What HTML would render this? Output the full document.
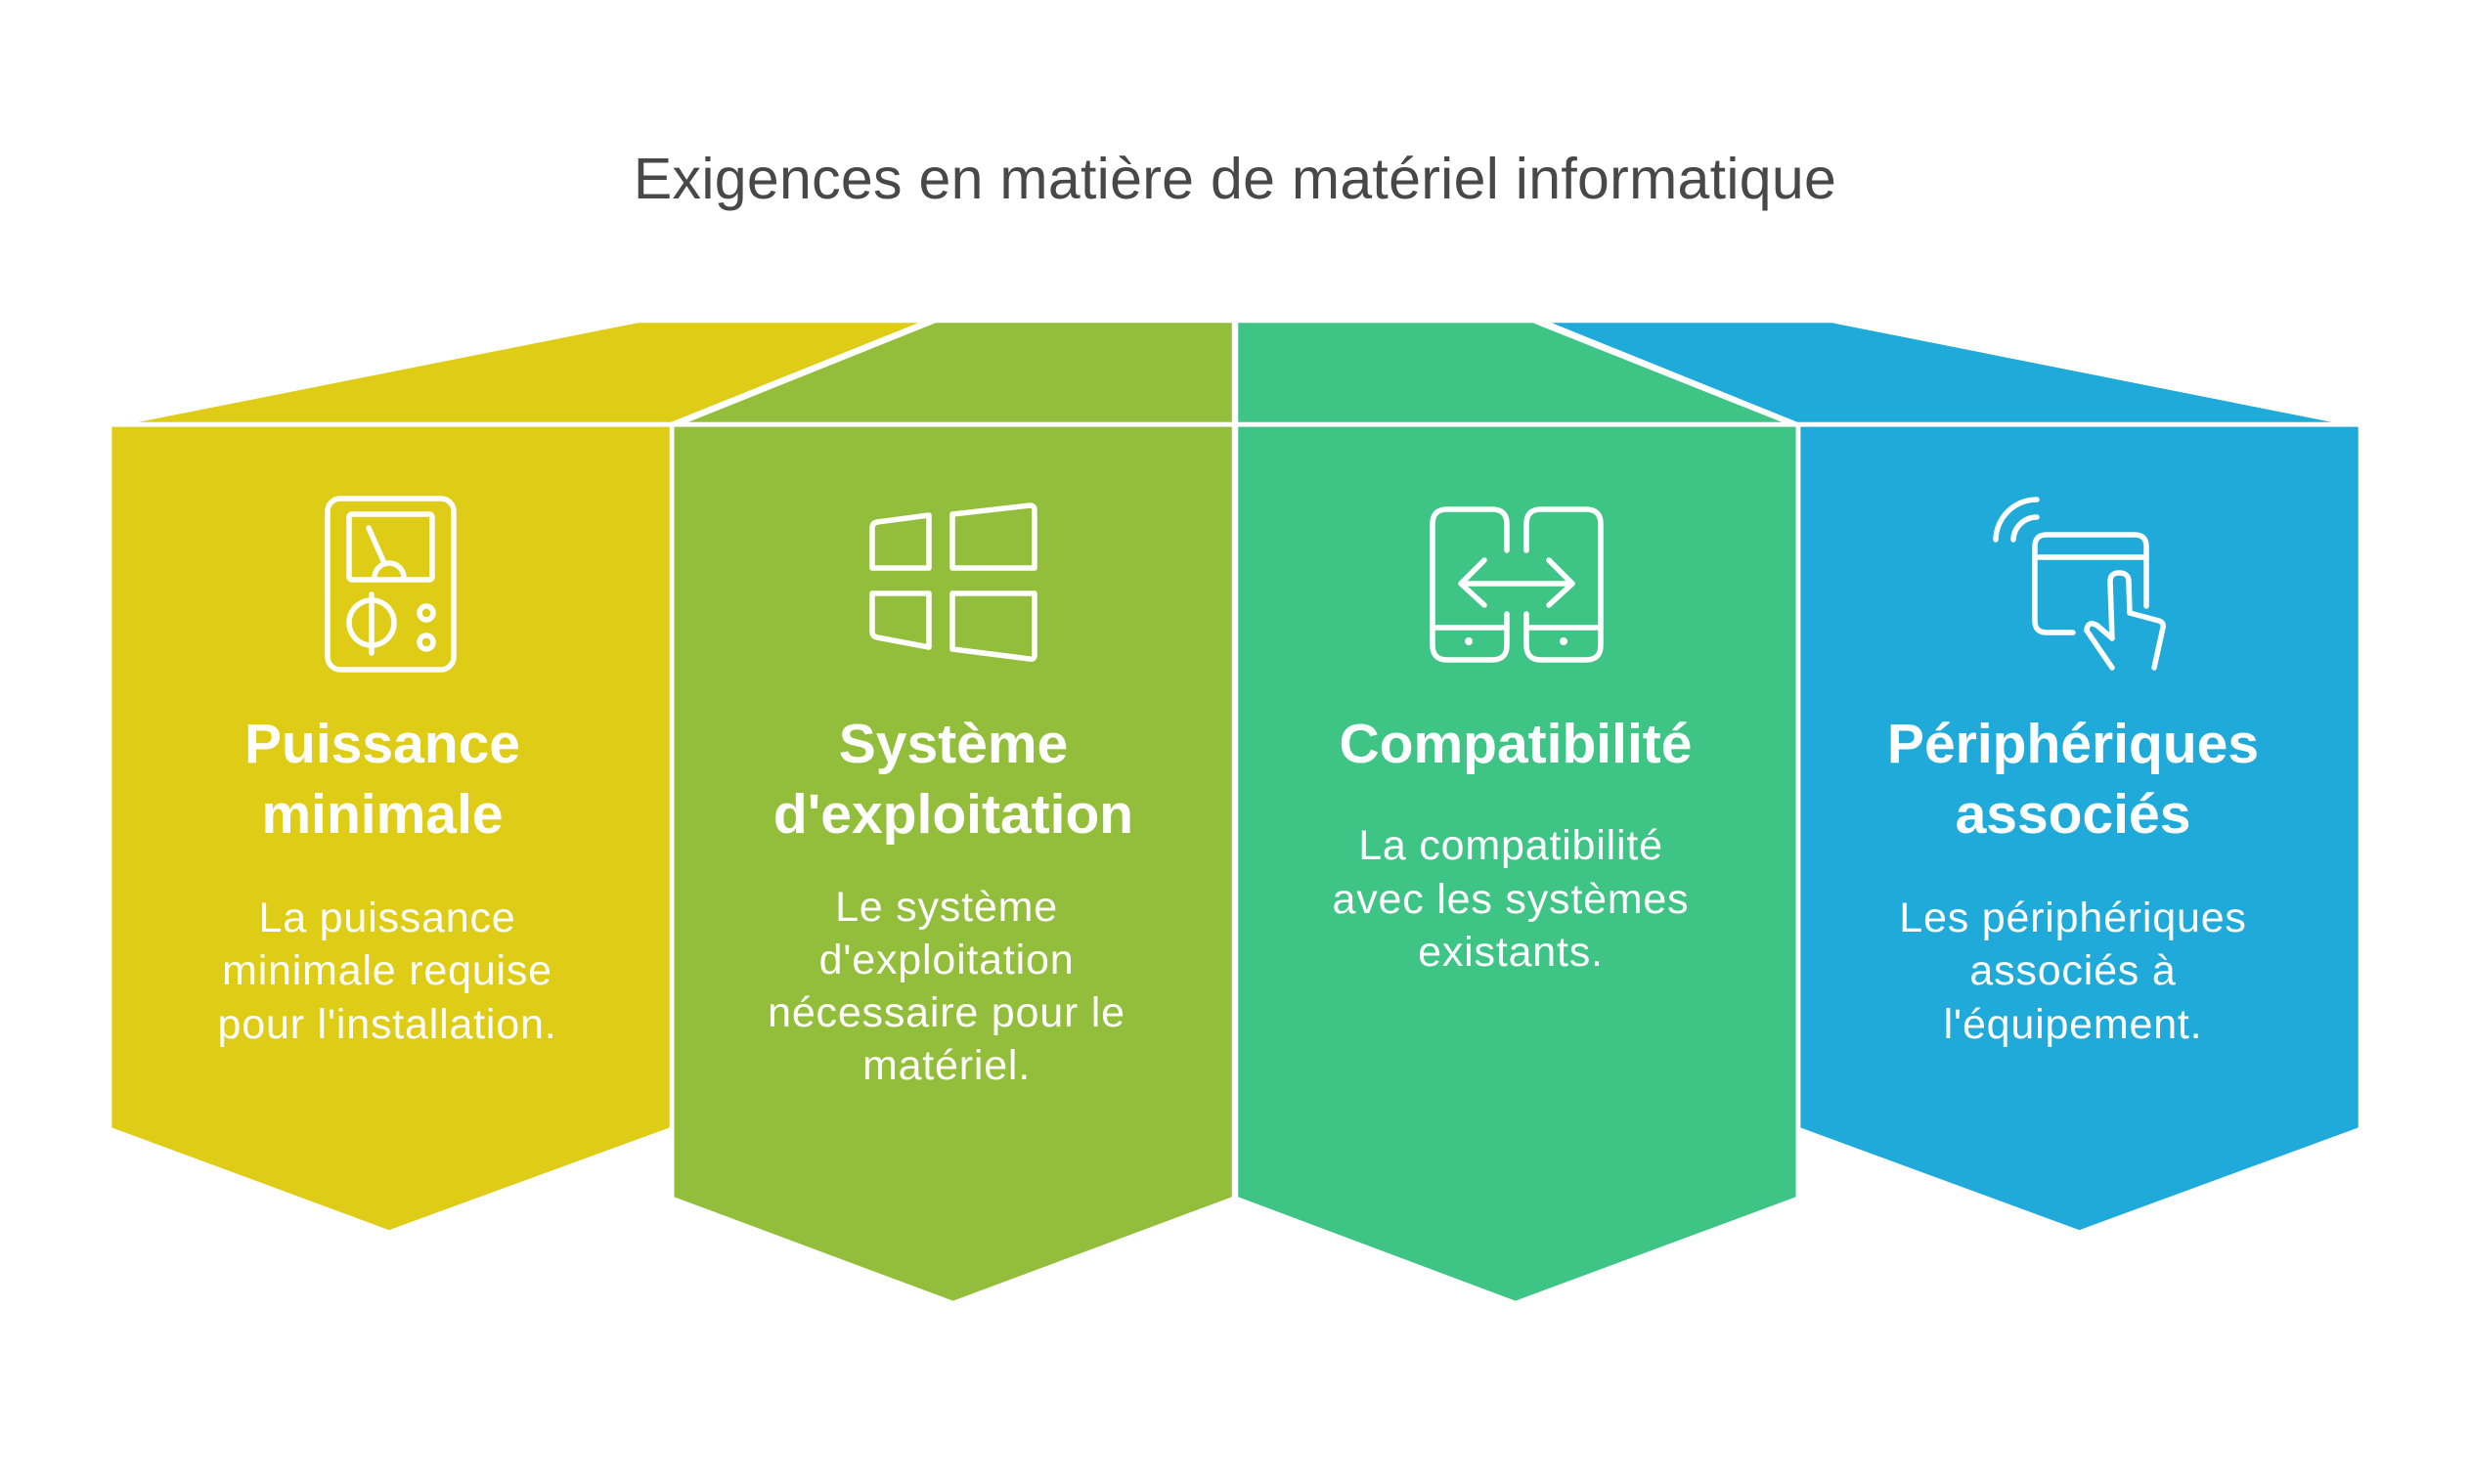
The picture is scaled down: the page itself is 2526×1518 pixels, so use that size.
<!DOCTYPE html>
<html><head><meta charset="utf-8"><style>
html,body{margin:0;padding:0;background:#fff;}
svg{display:block;}
text{font-family:"Liberation Sans",sans-serif;}
</style></head><body>
<svg width="2526" height="1518" viewBox="0 0 2526 1518" xmlns="http://www.w3.org/2000/svg">
<g transform="scale(1.611)">
<polygon points="405,205 583,205 426,268 88,268" fill="#DFCC17"/>
<polygon points="594,205 782,205 782,268 437,268" fill="#93BE3B"/>
<polygon points="786,205 973,205 1131,268 786,268" fill="#3EC484"/>
<polygon points="985,205 1163,205 1480,268 1141,268" fill="#20AADA"/>
<polygon points="71,271 425,271 425,716 247,781 71,716" fill="#DFCC17"/>
<polygon points="428,271 782,271 782,760 605,826 428,760" fill="#93BE3B"/>
<polygon points="786,271 1140,271 1140,760 962,826 786,760" fill="#3EC484"/>
<polygon points="1143,271 1497,271 1497,716 1320,781 1143,716" fill="#20AADA"/>
</g>
<text x="1263" y="203" font-size="59" fill="#484848" text-anchor="middle" letter-spacing="0.3">Exigences en matière de matériel informatique</text>

<g fill="none" stroke="#fff" stroke-width="5.5" stroke-linecap="round" stroke-linejoin="round">
<rect x="335" y="510" width="129" height="175" rx="13"/>
<rect x="357" y="526" width="85" height="67" rx="3"/>
<line x1="377" y1="540" x2="393" y2="576"/>
<path d="M383 591 A15 15 0 0 1 413 591"/>
<circle cx="380" cy="637" r="23"/>
<line x1="380" y1="608" x2="380" y2="668"/>
<circle cx="436" cy="627" r="7"/>
<circle cx="436" cy="657" r="7"/>
<path d="M892 540 Q892 535 897 534 L950 527 L950 581 L892 581 Z"/>
<path d="M974 526 L1053 517 Q1058 517 1058 522 L1058 581 L974 581 Z"/>
<path d="M892 607 L950 607 L950 662 L897 652 Q892 651 892 646 Z"/>
<path d="M974 607 L1058 607 L1058 670 Q1058 675 1053 674 L974 664 Z"/>
<path d="M1541 563 L1541 536 Q1541 521 1526 521 L1480 521 Q1465 521 1465 536 L1465 660 Q1465 675 1480 675 L1526 675 Q1541 675 1541 660 L1541 628"/>
<path d="M1561 563 L1561 536 Q1561 521 1576 521 L1622 521 Q1637 521 1637 536 L1637 660 Q1637 675 1622 675 L1576 675 Q1561 675 1561 660 L1561 628"/>
<line x1="1465" y1="642" x2="1541" y2="642"/>
<line x1="1561" y1="642" x2="1637" y2="642"/>
<line x1="1494" y1="597" x2="1608" y2="597"/>
<polyline points="1518,573 1494,597 1518,619"/>
<polyline points="1584,573 1608,597 1584,619"/>
<path d="M2041 552 A42 42 0 0 1 2083 511"/>
<path d="M2059 552 A24 24 0 0 1 2083 529"/>
<path d="M2120 647 L2093 647 Q2081 647 2081 635 L2081 559 Q2081 547 2093 547 L2183 547 Q2195 547 2195 559 L2195 620"/>
<line x1="2081" y1="570" x2="2195" y2="570"/>
<path d="M2160 653 L2158 595 Q2158 586 2167 586 Q2177 586 2177 595 L2178 627 L2208 635 Q2213 637 2212 642 L2203 683"/>
<path d="M2160 653 L2145 640 Q2135 634 2134 645 L2160 683"/>
</g>
<g fill="#fff"><circle cx="1502" cy="656" r="4"/><circle cx="1599" cy="656" r="4"/></g>

<g fill="#fff" text-anchor="middle">
<g font-size="57" font-weight="bold">
<text x="391" y="780">Puissance</text><text x="391" y="852">minimale</text>
<text x="975" y="780">Système</text><text x="975" y="852">d'exploitation</text>
<text x="1550" y="780">Compatibilité</text>
<text x="2120" y="780">Périphériques</text><text x="2120" y="852">associés</text>
</g>
<g font-size="43" letter-spacing="0.8">
<text x="396" y="953">La puissance</text><text x="396" y="1007">minimale requise</text><text x="396" y="1062">pour l'installation.</text>
<text x="968" y="942">Le système</text><text x="968" y="996">d'exploitation</text><text x="968" y="1050">nécessaire pour le</text><text x="968" y="1104">matériel.</text>
<text x="1545" y="879">La compatibilité</text><text x="1545" y="934">avec les systèmes</text><text x="1545" y="988">existants.</text>
<text x="2120" y="953">Les périphériques</text><text x="2120" y="1007">associés à</text><text x="2120" y="1062">l'équipement.</text>
</g>
</g>
</svg>
</body></html>
